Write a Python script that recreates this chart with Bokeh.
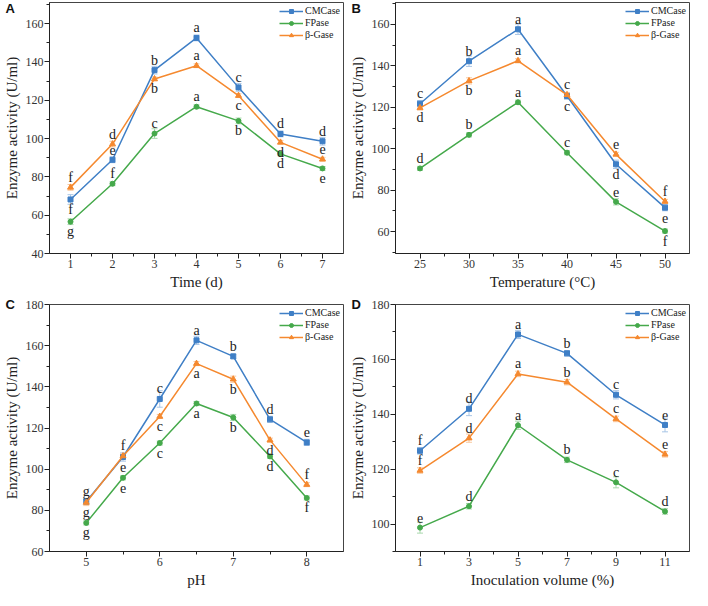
from bokeh.plotting import figure
from bokeh.models import (ColumnDataSource, Whisker, TeeHead, Legend, LegendItem,
                          Title, Range1d, FixedTicker)
from bokeh.layouts import gridplot
from bokeh.embed import file_html
from bokeh.resources import INLINE
from bokeh.core.properties import value

# ---------------- data ----------------
SERIES = ["CMCase", "FPase", "β-Gase"]

# Panel A: Time (d)
a_x = [1, 2, 3, 4, 5, 6, 7]
a_cmc = [68.2, 88.9, 135.7, 152.5, 126.7, 102.4, 98.6]
a_fp = [56.6, 76.4, 102.6, 116.6, 109.2, 92.0, 84.4]
a_bg = [74.5, 97.1, 131.1, 138.0, 122.4, 98.0, 89.2]
a_cmc_err = [2.5, 1.5, 2.0, 1.5, 2.0, 1.5, 2.0]
a_fp_err = [1.5, 1.0, 2.5, 1.0, 1.5, 1.0, 1.0]
a_bg_err = [1.5, 1.5, 1.0, 1.0, 1.0, 1.0, 1.0]
a_cmc_let = ["f", "e", "b", "a", "c", "d", "d"]
a_fp_let = ["g", "f", "c", "a", "b", "d", "e"]
a_bg_let = ["f", "d", "b", "a", "c", "d", "e"]
a_cmc_side = ["d", "u", "u", "u", "u", "u", "u"]
a_fp_side = ["d", "u", "u", "u", "d", "d", "d"]
a_bg_side = ["u", "u", "d", "u", "d", "d", "u"]
a_xticks = [1, 2, 3, 4, 5, 6, 7]
a_yticks = [40, 60, 80, 100, 120, 140, 160]

# Panel B: Temperature
b_x = [25, 30, 35, 40, 45, 50]
b_cmc = [121.7, 142.2, 157.6, 125.4, 92.5, 71.6]
b_fp = [90.5, 106.7, 122.4, 98.1, 74.4, 60.3]
b_bg = [119.7, 132.7, 142.4, 126.0, 97.3, 74.6]
b_cmc_err = [1.5, 2.5, 2.5, 1.5, 2.0, 1.5]
b_fp_err = [1.0, 1.0, 1.0, 1.0, 1.5, 1.0]
b_bg_err = [1.0, 1.5, 1.0, 1.0, 1.0, 1.0]
b_cmc_let = ["c", "b", "a", "c", "d", "e"]
b_fp_let = ["d", "b", "a", "c", "e", "f"]
b_bg_let = ["d", "b", "a", "c", "e", "f"]
b_cmc_side = ["u", "u", "u", "d", "d", "d"]
b_fp_side = ["u", "u", "u", "u", "u", "d"]
b_bg_side = ["d", "d", "u", "u", "u", "u"]
b_xticks = [25, 30, 35, 40, 45, 50]
b_yticks = [60, 80, 100, 120, 140, 160]

# Panel C: pH
c_x = [5, 5.5, 6, 6.5, 7, 7.5, 8]
c_cmc = [84.3, 105.9, 134.1, 162.6, 154.8, 124.2, 113.0]
c_fp = [73.9, 95.8, 112.7, 131.9, 125.1, 106.2, 86.0]
c_bg = [83.8, 106.4, 125.6, 151.3, 143.7, 114.1, 92.5]
c_cmc_err = [1.5, 2.0, 4.0, 2.0, 1.0, 1.5, 1.5]
c_fp_err = [1.0, 1.0, 1.0, 1.0, 1.5, 1.0, 1.0]
c_bg_err = [1.5, 1.0, 1.0, 1.0, 1.5, 1.0, 1.0]
c_cmc_let = ["g", "e", "c", "a", "b", "d", "e"]
c_fp_let = ["g", "e", "c", "a", "b", "d", "f"]
c_bg_let = ["g", "f", "c", "a", "b", "d", "f"]
c_cmc_side = ["u", "d", "u", "u", "u", "u", "u"]
c_fp_side = ["d", "d", "d", "d", "d", "d", "d"]
c_bg_side = ["d", "u", "d", "d", "d", "d", "u"]
c_xticks = [5, 6, 7, 8]
c_yticks = [60, 80, 100, 120, 140, 160, 180]

# Panel D: Inoculation volume (%)
d_x = [1, 3, 5, 7, 9, 11]
d_cmc = [126.7, 142.0, 169.1, 162.2, 147.1, 136.1]
d_fp = [98.7, 106.5, 136.0, 123.4, 115.2, 104.6]
d_bg = [119.5, 131.3, 154.7, 151.7, 138.3, 125.4]
d_cmc_err = [1.2, 2.5, 1.5, 1.0, 1.5, 2.5]
d_fp_err = [2.0, 1.0, 1.5, 1.0, 2.0, 1.0]
d_bg_err = [1.0, 1.5, 1.0, 1.0, 1.0, 1.0]
d_cmc_let = ["f", "d", "a", "b", "c", "e"]
d_fp_let = ["e", "d", "a", "b", "c", "d"]
d_bg_let = ["f", "d", "a", "b", "c", "e"]
d_cmc_side = ["u", "u", "u", "u", "u", "u"]
d_fp_side = ["u", "u", "u", "u", "u", "u"]
d_bg_side = ["u", "u", "u", "u", "u", "u"]
d_xticks = [1, 3, 5, 7, 9, 11]
d_yticks = [100, 120, 140, 160, 180]

# ---------------- style ----------------
COLORS = ["#3f7fc6", "#45a94b", "#f5892f"]
PALE = ["#a8c5e6", "#a9d8ad", "#f8c9a0"]
MARKERS = ["square", "circle", "triangle"]
SERIF = "Liberation Serif"


def midpoints(t):
    return [(t[i] + t[i + 1]) / 2 for i in range(len(t) - 1)]


def panel(tag, x, ys, errs, lets, sides, xr, yr, xticks, yticks, xlabel,
          height, top, bottom, extra_minor_y, standoff):
    p = figure(width=346, height=height, output_backend="svg",
               toolbar_location=None, x_range=Range1d(*xr), y_range=Range1d(*yr),
               min_border_left=38, min_border_right=3, min_border_top=top,
               min_border_bottom=bottom)
    p.xgrid.visible = False
    p.ygrid.visible = False
    p.outline_line_color = "#444444"
    p.outline_line_width = 1
    p.background_fill_color = "white"
    p.border_fill_color = "white"

    p.xaxis.ticker = FixedTicker(ticks=xticks, minor_ticks=midpoints(xticks))
    ymin = midpoints(yticks) + extra_minor_y
    p.yaxis.ticker = FixedTicker(ticks=yticks, minor_ticks=ymin)
    for ax in (p.xaxis[0], p.yaxis[0]):
        ax.axis_line_color = "#222222"
        ax.major_tick_line_color = "#222222"
        ax.minor_tick_line_color = "#222222"
        ax.major_tick_out = 5
        ax.major_tick_in = 0
        ax.minor_tick_out = 3
        ax.minor_tick_in = 0
        ax.major_label_text_font = SERIF
        ax.major_label_text_font_size = "12px"
        ax.major_label_text_color = "#333333"
        ax.major_label_standoff = 1
        ax.axis_label_text_font = SERIF
        ax.axis_label_text_font_size = "15px"
        ax.axis_label_text_font_style = "normal"
        ax.axis_label_text_color = "#222222"
    p.xaxis.axis_label = xlabel
    p.yaxis.axis_label = "Enzyme activity (U/ml)"
    p.xaxis.axis_label_standoff = 3
    p.yaxis.axis_label_standoff = 3

    items = []
    for i, name in enumerate(SERIES):
        y = ys[i]
        e = errs[i]
        src = ColumnDataSource(dict(x=x, y=y,
                                    lo=[v - d for v, d in zip(y, e)],
                                    hi=[v + d for v, d in zip(y, e)]))
        wh = Whisker(base="x", upper="hi", lower="lo", source=src,
                     line_color=PALE[i], line_width=1,
                     upper_head=TeeHead(size=6, line_color=PALE[i], line_width=1),
                     lower_head=TeeHead(size=6, line_color=PALE[i], line_width=1))
        p.add_layout(wh)
        ln = p.line("x", "y", source=src, line_color=COLORS[i], line_width=1.5)
        mk = p.scatter("x", "y", source=src, marker=MARKERS[i], size=5 if i != 2 else 6,
                       fill_color=COLORS[i], line_color=COLORS[i])
        items.append(LegendItem(label=name, renderers=[ln, mk]))

        up = dict(x=[], y=[], t=[])
        dn = dict(x=[], y=[], t=[])
        for xv, yv, lt, sd in zip(x, y, lets[i], sides[i]):
            tgt = up if sd == "u" else dn
            tgt["x"].append(xv)
            tgt["y"].append(yv)
            tgt["t"].append(lt)
        p.text(x="x", y="y", text="t", source=ColumnDataSource(up),
               text_font=value(SERIF), text_font_size="14px", text_color="#222222",
               text_align="center", text_baseline="alphabetic", y_offset=-10)
        p.text(x="x", y="y", text="t", source=ColumnDataSource(dn),
               text_font=value(SERIF), text_font_size="14px", text_color="#222222",
               text_align="center", text_baseline="alphabetic", y_offset=10)

    leg = Legend(items=items, location="top_right")
    leg.background_fill_alpha = 0
    leg.border_line_alpha = 0
    leg.label_text_font = SERIF
    leg.label_text_font_size = "10px"
    leg.label_text_color = "#222222"
    leg.glyph_width = 24
    leg.glyph_height = 10
    leg.label_height = 10
    leg.label_standoff = 2
    leg.spacing = 1
    leg.padding = 2
    leg.margin = 1
    p.add_layout(leg)

    t = Title(text=tag, align="left", offset=-44, standoff=standoff,
              vertical_align="bottom", text_font="Liberation Sans",
              text_font_style="bold", text_font_size="13px", text_color="#111111")
    p.add_layout(t, "above")
    return p


pA = panel("A", a_x, [a_cmc, a_fp, a_bg], [a_cmc_err, a_fp_err, a_bg_err],
           [a_cmc_let, a_fp_let, a_bg_let], [a_cmc_side, a_fp_side, a_bg_side],
           (0.5, 7.5), (40, 171), a_xticks, a_yticks, "Time (d)", 292, 2, 36, [170], -26)
pB = panel("B", b_x, [b_cmc, b_fp, b_bg], [b_cmc_err, b_fp_err, b_bg_err],
           [b_cmc_let, b_fp_let, b_bg_let], [b_cmc_side, b_fp_side, b_bg_side],
           (22.5, 52.5), (49.5, 170.5), b_xticks, b_yticks, "Temperature (°C)", 292, 2, 36,
           [50, 170], -26)
pC = panel("C", c_x, [c_cmc, c_fp, c_bg], [c_cmc_err, c_fp_err, c_bg_err],
           [c_cmc_let, c_fp_let, c_bg_let], [c_cmc_side, c_fp_side, c_bg_side],
           (4.5, 8.5), (60, 180), c_xticks, c_yticks, "pH", 298, 12, 36, [], -15)
pD = panel("D", d_x, [d_cmc, d_fp, d_bg], [d_cmc_err, d_fp_err, d_bg_err],
           [d_cmc_let, d_fp_let, d_bg_let], [d_cmc_side, d_fp_side, d_bg_side],
           (0, 12), (90, 180), d_xticks, d_yticks, "Inoculation volume (%)", 298, 12, 36,
           [90], -15)

grid = gridplot([[pA, pB], [pC, pD]], toolbar_location=None)

open("out.html", "w").write(file_html(grid, INLINE))
